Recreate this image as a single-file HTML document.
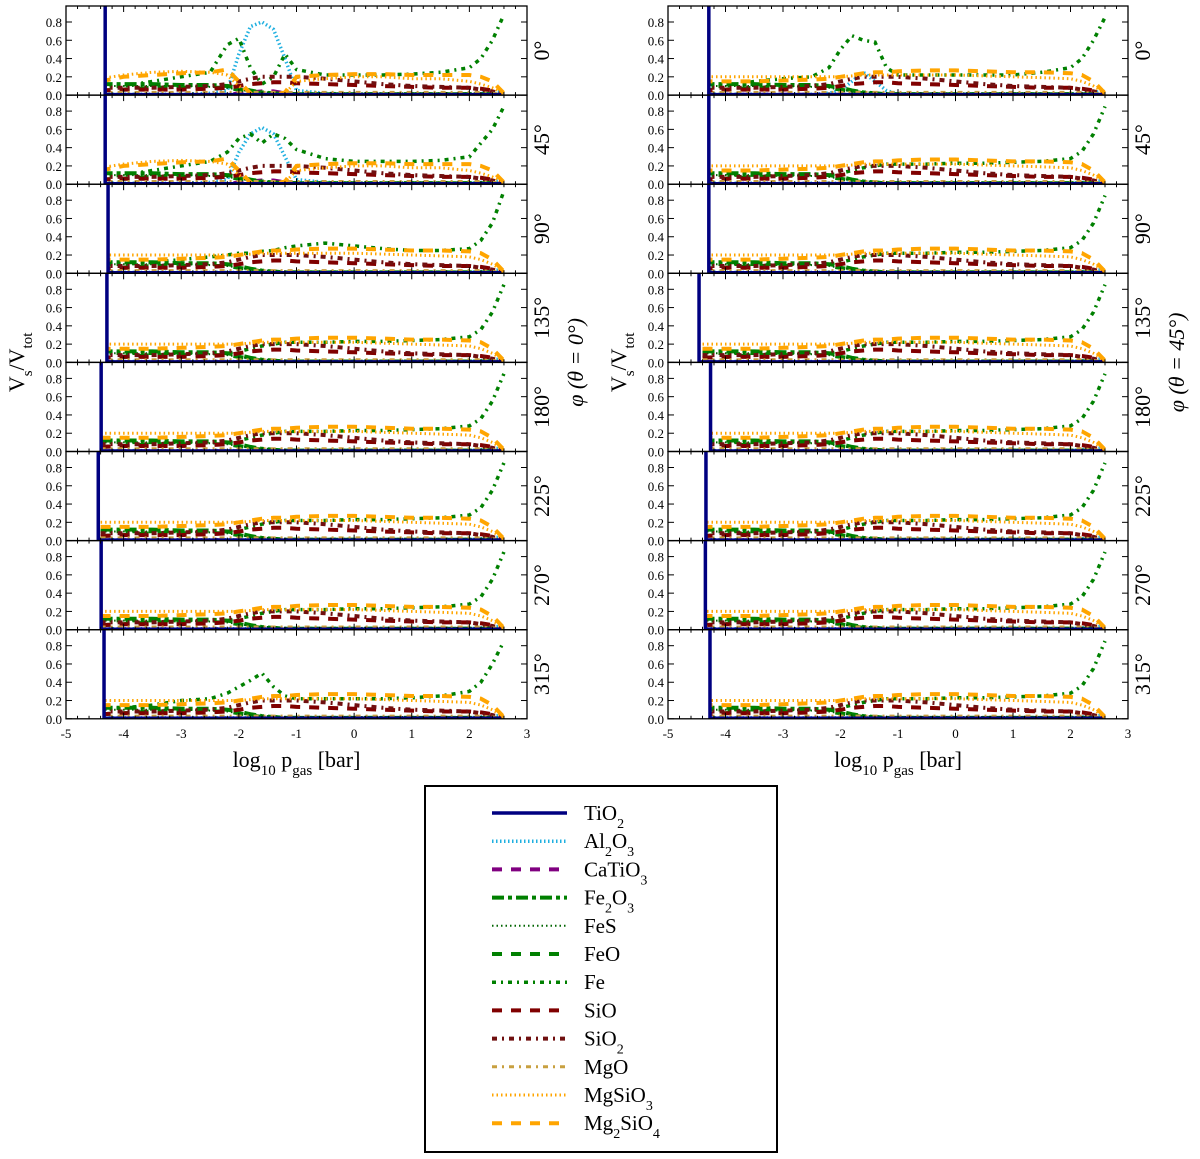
<!DOCTYPE html>
<html><head><meta charset="utf-8"><style>
body{margin:0;background:#fff;}
svg{display:block;font-family:"Liberation Serif","DejaVu Serif",serif;}
</style></head><body>
<svg id="fig" width="1200" height="1159" viewBox="0 0 1200 1159"></svg>
<script>
// ---- data ----
const grid = [-4.4,-4,-3.5,-3,-2.5,-2.2,-2,-1.8,-1.6,-1.4,-1.2,-1,-0.5,0,0.5,1,1.5,2,2.2,2.4,2.6];
const angles = ["0°","45°","90°","135°","180°","225°","270°","315°"];
const xTicks = [-5,-4,-3,-2,-1,0,1,2,3];
const yTicks = [0.0,0.2,0.4,0.6,0.8];
const startLeft  = [-4.32,-4.32,-4.27,-4.29,-4.39,-4.44,-4.39,-4.34];
const startRight = [-4.29,-4.29,-4.29,-4.46,-4.26,-4.34,-4.35,-4.27];
const dFe   = [0.1,0.1,0.1,0.1,0.1,0.1,0.12,0.15,0.18,0.2,0.22,0.22,0.22,0.23,0.23,0.24,0.25,0.28,0.36,0.55,0.85];
const dMg2  = [0.15,0.15,0.15,0.16,0.17,0.18,0.2,0.22,0.24,0.25,0.25,0.26,0.27,0.27,0.26,0.25,0.25,0.24,0.22,0.15,0.02];
const dMgS  = [0.2,0.2,0.2,0.2,0.2,0.2,0.2,0.21,0.22,0.22,0.22,0.22,0.22,0.22,0.21,0.2,0.19,0.18,0.15,0.1,0.02];
const dFeS  = [0.1,0.1,0.1,0.1,0.09,0.08,0.06,0.04,0.03,0.03,0.02,0.02,0.02,0.02,0.02,0.02,0.02,0.02,0.02,0.02,0.01];
const dFe2O3= [0.12,0.12,0.12,0.11,0.11,0.1,0.08,0.05,0.03,0.02,0.01,0.01,0.01,0.01,0.01,0.01,0.01,0.01,0.01,0.01,0.01];
const dFeO  = [0.05,0.06,0.08,0.08,0.08,0.08,0.06,0.04,0.02,0.01,0.01,0.01,0.01,0.01,0.01,0.01,0.01,0.01,0.01,0.01,0.01];
const dSiO  = [0.05,0.06,0.06,0.06,0.07,0.08,0.1,0.12,0.13,0.14,0.14,0.13,0.12,0.11,0.1,0.09,0.08,0.08,0.07,0.05,0.01];
const dSiO2 = [0.08,0.08,0.08,0.09,0.1,0.12,0.15,0.18,0.2,0.2,0.2,0.2,0.18,0.15,0.12,0.1,0.09,0.08,0.06,0.04,0.01];
const dMgO  = [0.03,0.03,0.03,0.03,0.03,0.03,0.03,0.03,0.03,0.03,0.03,0.03,0.03,0.03,0.03,0.03,0.03,0.03,0.03,0.02,0.01];
const dAl   = [0.01,0.01,0.01,0.01,0.01,0.01,0.01,0.01,0.01,0.01,0.01,0.01,0.01,0.01,0.01,0.01,0.01,0.01,0.02,0.03,0.04];
const dCa   = [0.003,0.003,0.003,0.003,0.003,0.003,0.003,0.003,0.003,0.003,0.003,0.003,0.003,0.003,0.003,0.003,0.003,0.003,0.003,0.003,0.003];
// panel-specific curves
const L0Fe  = [0.08,0.1,0.15,0.2,0.25,0.55,0.62,0.3,0.12,0.2,0.45,0.28,0.22,0.22,0.22,0.23,0.25,0.3,0.4,0.6,0.88];
const L0Al  = [0.01,0.01,0.01,0.01,0.02,0.05,0.45,0.75,0.8,0.72,0.4,0.05,0.02,0.01,0.01,0.01,0.01,0.01,0.02,0.03,0.04];
const L0Mg2 = [0.15,0.2,0.22,0.24,0.25,0.28,0.15,0.02,0.0,0.0,0.03,0.2,0.22,0.23,0.23,0.22,0.22,0.22,0.2,0.15,0.02];
const L0MgS = [0.18,0.22,0.25,0.26,0.25,0.22,0.1,0.02,0,0,0.02,0.15,0.18,0.2,0.2,0.18,0.18,0.15,0.12,0.08,0.02];
const L0Ca  = [0,0,0,0,0,0,0.02,0.03,0.04,0.04,0.02,0.01,0,0,0,0,0,0,0,0,0];
const L45Fe = [0.08,0.1,0.15,0.2,0.25,0.35,0.5,0.55,0.45,0.55,0.5,0.38,0.28,0.25,0.25,0.25,0.26,0.3,0.45,0.6,0.85];
const L45Al = [0.01,0.01,0.01,0.01,0.02,0.05,0.35,0.55,0.62,0.55,0.3,0.05,0.02,0.01,0.01,0.01,0.01,0.01,0.02,0.03,0.04];
const L90Fe = [0.1,0.1,0.12,0.15,0.18,0.2,0.22,0.22,0.24,0.25,0.28,0.3,0.33,0.3,0.27,0.25,0.25,0.27,0.36,0.55,0.9];
const R0Fe  = [0.08,0.1,0.15,0.18,0.2,0.3,0.5,0.65,0.6,0.58,0.3,0.22,0.22,0.22,0.22,0.22,0.25,0.3,0.4,0.6,0.85];
const R0Al  = [0.01,0.01,0.01,0.01,0.01,0.02,0.05,0.15,0.25,0.15,0.05,0.01,0.01,0.01,0.01,0.01,0.01,0.01,0.02,0.03,0.04];
const L315Fe= [0.1,0.12,0.15,0.2,0.22,0.28,0.35,0.42,0.5,0.35,0.25,0.22,0.22,0.22,0.22,0.23,0.25,0.3,0.4,0.6,0.85];
const legendNames = ["TiO<tspan baseline-shift='sub' font-size='14'>2</tspan>","Al<tspan baseline-shift='sub' font-size='14'>2</tspan>O<tspan baseline-shift='sub' font-size='14'>3</tspan>","CaTiO<tspan baseline-shift='sub' font-size='14'>3</tspan>","Fe<tspan baseline-shift='sub' font-size='14'>2</tspan>O<tspan baseline-shift='sub' font-size='14'>3</tspan>","FeS","FeO","Fe","SiO","SiO<tspan baseline-shift='sub' font-size='14'>2</tspan>","MgO","MgSiO<tspan baseline-shift='sub' font-size='14'>3</tspan>","Mg<tspan baseline-shift='sub' font-size='14'>2</tspan>SiO<tspan baseline-shift='sub' font-size='14'>4</tspan>"];
const styles = [
 {k:"tio2",c:"#000080",w:3.5,d:""},
 {k:"al",c:"#20b0e0",w:3.5,d:"1.5 2.5"},
 {k:"ca",c:"#800080",w:4,d:"10 9"},
 {k:"fe2o3",c:"#008000",w:4,d:"12 4 4 4"},
 {k:"fes",c:"#006400",w:2,d:"1.5 3"},
 {k:"feo",c:"#008000",w:4,d:"10 9"},
 {k:"fe",c:"#008000",w:3.5,d:"4 5 2 5"},
 {k:"sio",c:"#800000",w:4,d:"10 9"},
 {k:"sio2",c:"#701010",w:4,d:"5 5 2 5"},
 {k:"mgo",c:"#c8a040",w:3,d:"5 5 2 5"},
 {k:"mgs",c:"#ffa500",w:3,d:"1.5 3"},
 {k:"mg2",c:"#ffa500",w:4,d:"10 9"}
];
// ---- drawing ----
const NS="http://www.w3.org/2000/svg";
const fig=document.getElementById('fig');
function el(t,a,p){const e=document.createElementNS(NS,t);for(const k in a)e.setAttribute(k,a[k]);(p||fig).appendChild(e);return e;}
const cols=[{x0:66,x1:527,starts:startLeft,side:"left"},{x0:668,x1:1128,starts:startRight,side:"right"}];
const top0=6, ph=89.1, ymax=0.975;
function panelSeries(side,r){
  const s={fe:dFe,mg2:dMg2,mgs:dMgS,fes:dFeS,fe2o3:dFe2O3,feo:dFeO,sio:dSiO,sio2:dSiO2,mgo:dMgO,al:dAl,ca:dCa};
  if(side==="left"&&r===0){s.fe=L0Fe;s.al=L0Al;s.mg2=L0Mg2;s.mgs=L0MgS;s.ca=L0Ca;}
  if(side==="left"&&r===1){s.fe=L45Fe;s.al=L45Al;s.mg2=L0Mg2;s.mgs=L0MgS;s.ca=L0Ca;}
  if(side==="left"&&r===2){s.fe=L90Fe;}
  if(side==="left"&&r===7){s.fe=L315Fe;}
  if(side==="right"&&r===0){s.fe=R0Fe;s.al=R0Al;}
  return s;
}
cols.forEach((col,ci)=>{
  const xs=v=>col.x0+(v+5)/8*(col.x1-col.x0);
  for(let r=0;r<8;r++){
    const yt=top0+r*ph, yb=yt+ph;
    const ys=v=>yb-v/ymax*ph;
    const g=el('g',{});
    
    
    const cid='clip'+ci+'_'+r;
    const cp=el('clipPath',{id:cid},g);
    el('rect',{x:xs(col.starts[r]),y:yt,width:col.x1-xs(col.starts[r]),height:ph},cp);
    const sg=el('g',{'clip-path':'url(#'+cid+')'},g);
    const ser=panelSeries(col.side,r);
    styles.forEach(st=>{
      if(st.k==="tio2")return;
      const vals=ser[st.k];
      const pts=grid.map((x,i)=>xs(x).toFixed(1)+','+ys(vals[i]).toFixed(1)).join(' ');
      const pl=el('polyline',{points:pts,fill:'none',stroke:st.c,'stroke-width':st.w,'stroke-dasharray':st.d},sg);
      
      
    });
    const tx=xs(col.starts[r]);
    const t1=el('line',{x1:tx,y1:yt,x2:tx,y2:yb,stroke:'#000080','stroke-width':3.5},g);
    
    
    el('line',{x1:tx,y1:yb-1,x2:xs(2.55),y2:yb-1,stroke:'#000080','stroke-width':2.5},g);
    el('rect',{x:col.x0,y:yt,width:col.x1-col.x0,height:ph,fill:'none',stroke:'#000','stroke-width':1.3},g);
    for(let v=-5;v<=3.001;v+=0.2){
      const X=xs(v), major=Math.abs(v-Math.round(v))<0.01;
      const L=major?6:3;
      el('line',{x1:X,y1:yb,x2:X,y2:yb-L,stroke:'#000','stroke-width':1},g);
      el('line',{x1:X,y1:yt,x2:X,y2:yt+L,stroke:'#000','stroke-width':1},g);
    }
    yTicks.forEach(v=>{
      const Y=ys(v);
      el('line',{x1:col.x0,y1:Y,x2:col.x0+6,y2:Y,stroke:'#000'},g);
      el('line',{x1:col.x1,y1:Y,x2:col.x1-6,y2:Y,stroke:'#000'},g);
      const t=el('text',{x:col.x0-4,y:Y+5,'text-anchor':'end','font-size':13},g);
      t.textContent=v.toFixed(1);
      
      
    });
    const at=el('text',{transform:`translate(${col.x1+22},${yt+ph/2}) rotate(-90)`,'text-anchor':'middle','font-size':22},g);
    at.textContent=angles[r];
    
    
  }
  const yb=top0+8*ph;
  xTicks.forEach(v=>{
    const t=el('text',{x:xs(v),y:yb+19,'text-anchor':'middle','font-size':13});
    t.textContent=v;
    
    
  });
  const xl=el('text',{x:(col.x0+col.x1)/2,y:yb+48,'text-anchor':'middle','font-size':22});
  xl.innerHTML="log<tspan baseline-shift='sub' font-size='15'>10</tspan> p<tspan baseline-shift='sub' font-size='15'>gas</tspan> [bar]";
  
  
  const yl=el('text',{transform:`translate(${col.x0-42},${top0+4*ph}) rotate(-90)`,'text-anchor':'middle','font-size':22});
  yl.innerHTML="V<tspan baseline-shift='sub' font-size='15'>s</tspan>/V<tspan baseline-shift='sub' font-size='15'>tot</tspan>";
  
  
  const pt=el('text',{transform:`translate(${col.x1+56},${top0+4*ph}) rotate(-90)`,'text-anchor':'middle','font-size':22,'font-style':'italic'});
  pt.textContent=ci===0?"φ (θ = 0°)":"φ (θ = 45°)";
  
  
});
const lg=el('g',{});


el('rect',{x:425,y:786,width:352,height:366,fill:'#fff',stroke:'#000','stroke-width':2},lg);
styles.forEach((st,i)=>{
  const y=813+i*28.2;
  const ln=el('line',{x1:492,y1:y,x2:567,y2:y,stroke:st.c,'stroke-width':st.w,'stroke-dasharray':st.d},lg);
  
  
  const t=el('text',{x:584,y:y+7,'font-size':21},lg);
  t.innerHTML=legendNames[i];
  
  
});
</script>
</body></html>
